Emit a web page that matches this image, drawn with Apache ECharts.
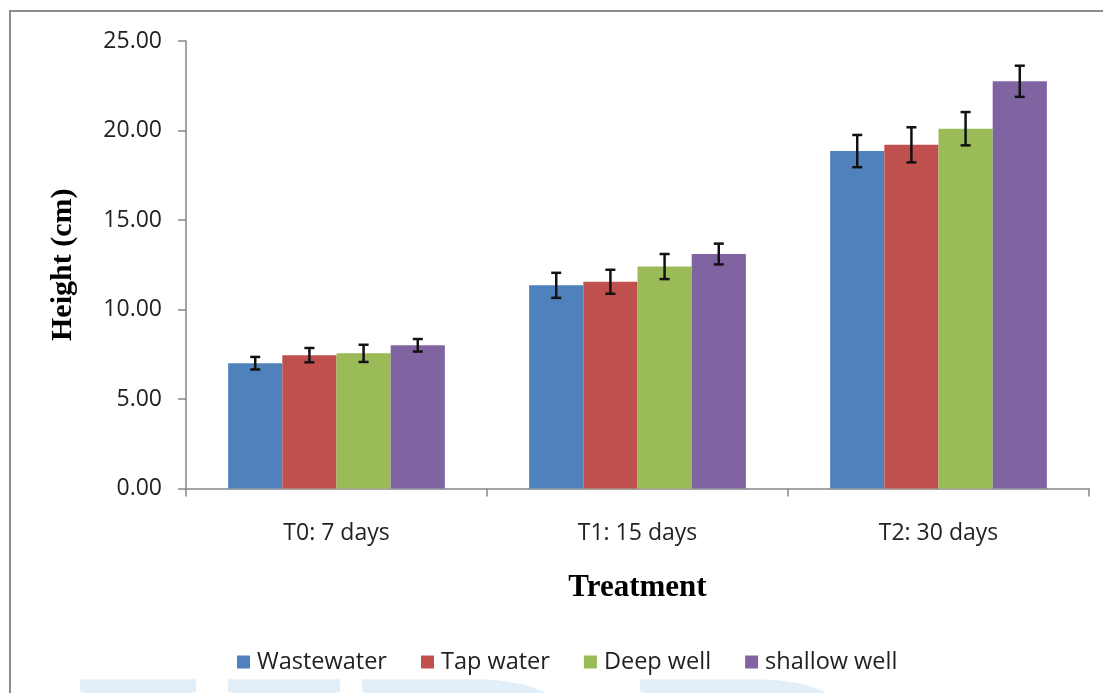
<!DOCTYPE html>
<html>
<head>
<meta charset="utf-8">
<script src="https://cdn.jsdelivr.net/npm/echarts@6/dist/echarts.min.js"></script>
<style>
html,body{margin:0;padding:0;background:#fff;}
#chart{width:1103px;height:693px;}
</style>
</head>
<body>
<div id="chart"></div>
<script>
const categories = ['T0: 7 days', 'T1: 15 days', 'T2: 30 days'];
const seriesNames = ['Wastewater', 'Tap water', 'Deep well', 'shallow well'];
const wastewater = [7.00, 11.35, 18.85];
const tapWater = [7.45, 11.55, 19.20];
const deepWell = [7.55, 12.40, 20.10];
const shallowWell = [8.00, 13.10, 22.75];
const wastewaterErr = [0.35, 0.70, 0.90];
const tapWaterErr = [0.40, 0.67, 0.98];
const deepWellErr = [0.48, 0.70, 0.93];
const shallowWellErr = [0.35, 0.58, 0.87];
const yTicks = [0, 5, 10, 15, 20, 25];

const colors = ['#4F81BD', '#C0504D', '#9BBB59', '#8064A2'];
const values = [wastewater, tapWater, deepWell, shallowWell];
const errs = [wastewaterErr, tapWaterErr, deepWellErr, shallowWellErr];
const catGap = 0.28;

const chart = echarts.init(document.getElementById('chart'));

const series = [];
values.forEach((vals, i) => {
  series.push({
    name: seriesNames[i],
    type: 'bar',
    data: vals,
    barGap: '0%',
    barCategoryGap: (catGap * 100) + '%',
    itemStyle: { color: colors[i] },
    z: 2
  });
});
values.forEach((vals, i) => {
  series.push({
    name: 'err_' + i,
    type: 'custom',
    z: 5,
    data: vals.map((v, k) => [k, v, errs[i][k]]),
    renderItem: function (params, api) {
      const k = api.value(0), v = api.value(1), e = api.value(2);
      const band = api.size([1, 0])[0];
      const group = band * (1 - catGap);
      const bw = group / 4;
      const off = -group / 2 + bw * (i + 0.5);
      const hi = api.coord([k, v + e]);
      const lo = api.coord([k, v - e]);
      const x = hi[0] + off;
      const cap = 5;
      const st = { stroke: '#111', lineWidth: 2.5 };
      return {
        type: 'group',
        children: [
          { type: 'line', shape: { x1: x, y1: hi[1], x2: x, y2: lo[1] }, style: st },
          { type: 'line', shape: { x1: x - cap, y1: hi[1], x2: x + cap, y2: hi[1] }, style: st },
          { type: 'line', shape: { x1: x - cap, y1: lo[1], x2: x + cap, y2: lo[1] }, style: st }
        ]
      };
    }
  });
});

const wmColor = '#e2eff8';
function wmLetter(ch, x) {
  return {
    type: 'text', left: x, top: 642, z: -10, silent: true,
    style: { text: ch, fill: wmColor, font: 'bold 360px "Liberation Serif"' }
  };
}

chart.setOption({
  animation: false,
  backgroundColor: '#ffffff',
  graphic: [
    { type: 'rect', shape: { x: 10, y: 11, width: 1200, height: 800 }, style: { fill: 'none', stroke: '#8c8c8c', lineWidth: 2 }, z: -20, silent: true },
    wmLetter('I', 68),
    wmLetter('J', 170),
    wmLetter('D', 356),
    wmLetter('R', 634)
  ],
  grid: { left: 186, right: 14, top: 41, bottom: 204.5, containLabel: false },
  legend: {
    data: seriesNames,
    left: 237,
    top: 650,
    padding: 0,
    icon: 'rect',
    itemWidth: 13,
    itemHeight: 13,
    itemGap: 34,
    textStyle: { fontFamily: 'Open Sans', fontSize: 23.5, color: '#222', padding: [0, 0, 0, 2] }
  },
  xAxis: {
    type: 'category',
    data: categories,
    name: 'Treatment',
    nameLocation: 'middle',
    nameGap: 84,
    nameTextStyle: { fontFamily: 'Liberation Serif', fontWeight: 'bold', fontSize: 31, color: '#000' },
    axisLine: { lineStyle: { color: '#868686', width: 1.5 } },
    axisTick: { show: true, alignWithLabel: false, length: 8, lineStyle: { color: '#868686', width: 1.5 } },
    axisLabel: { fontFamily: 'Open Sans', fontSize: 23, color: '#222', margin: 33 },
    splitLine: { show: false }
  },
  yAxis: {
    type: 'value',
    min: yTicks[0],
    max: yTicks[yTicks.length - 1],
    interval: 5,
    name: 'Height (cm)',
    nameLocation: 'middle',
    nameGap: 108,
    nameRotate: 90,
    nameTextStyle: { fontFamily: 'Liberation Serif', fontWeight: 'bold', fontSize: 30, color: '#000' },
    axisLine: { show: true, lineStyle: { color: '#868686', width: 1.5 } },
    axisTick: { show: true, length: 8, lineStyle: { color: '#868686', width: 1.5 } },
    axisLabel: { fontFamily: 'Open Sans', fontSize: 23, color: '#222', margin: 24, formatter: v => v.toFixed(2) },
    splitLine: { show: false }
  },
  series: series
});
</script>
</body>
</html>
